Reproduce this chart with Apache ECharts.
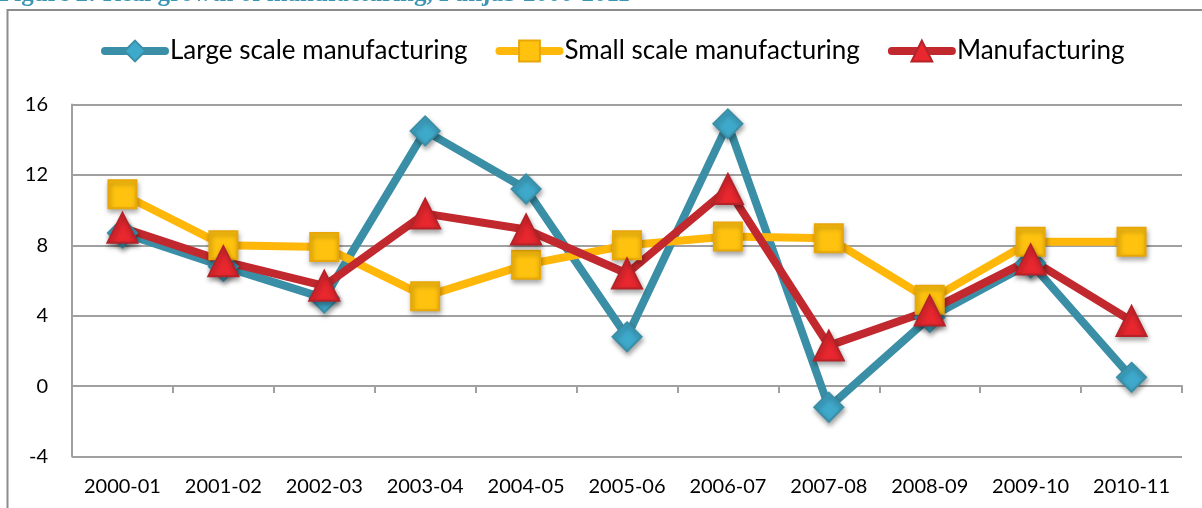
<!DOCTYPE html>
<html>
<head>
<meta charset="utf-8">
<script src="https://cdn.jsdelivr.net/npm/echarts@6/dist/echarts.min.js"></script>
<style>
html,body{margin:0;padding:0;background:#fff;}
#chart{width:1202px;height:508px;}
</style>
</head>
<body>
<div id="chart"></div>
<script>
const titleText = 'Figure 2: Real growth of manufacturing, Punjab 2000-2011';
const categories = ['2000-01','2001-02','2002-03','2003-04','2004-05','2005-06','2006-07','2007-08','2008-09','2009-10','2010-11'];
const seriesNames = ['Large scale manufacturing','Small scale manufacturing','Manufacturing'];
const largeScale = [8.7, 6.8, 5.0, 14.5, 11.2, 2.8, 14.9, -1.2, 3.9, 7.0, 0.5];
const smallScale = [10.9, 8.0, 7.9, 5.1, 6.9, 8.0, 8.5, 8.4, 4.9, 8.2, 8.2];
const manufacturing = [9.0, 7.1, 5.7, 9.8, 8.9, 6.4, 11.2, 2.3, 4.3, 7.2, 3.7];
const yMin = -4, yMax = 16, yStep = 4;

const chart = echarts.init(document.getElementById('chart'), null, {renderer:'canvas'});
const FONT = 'Lato';
const shadow = {shadowBlur: 5, shadowColor: 'rgba(0,0,0,0.35)', shadowOffsetX: 1, shadowOffsetY: 3};

function mkSeries(name, data, symbol, size, lineColor, fill, border) {
  return {
    name: name, type: 'line', data: data,
    xAxisIndex: 0, yAxisIndex: 0,
    symbol: symbol, symbolSize: size, showAllSymbol: true,
    lineStyle: {color: lineColor, width: 8, cap: 'round', join: 'round'},
    itemStyle: Object.assign({color: fill, borderColor: border, borderWidth: 2}, shadow),
    emphasis: {disabled: true},
    animation: false
  };
}

chart.setOption({
  animation: false,
  backgroundColor: '#fff',
  graphic: [
    {type: 'rect', shape: {x: 7.5, y: 10, width: 1220, height: 520}, style: {fill: 'none', stroke: '#8c8c8c', lineWidth: 2}, silent: true},
    {type: 'text', x: -1, y: 7, style: {text: titleText, fill: '#3c95b2', font: 'bold 25px "Liberation Serif"', verticalAlign: 'bottom', align: 'left'}, silent: true}
  ],
  legend: {
    data: seriesNames,
    left: 96, top: 33,
    orient: 'horizontal',
    itemWidth: 60, itemHeight: 26, itemGap: 28,
    textStyle: {fontFamily: FONT, fontSize: 26, color: '#000'},
    lineStyle: {width: 8, cap: 'round'},
    selectedMode: false
  },
  grid: {left: 72, right: 20, top: 104.5, bottom: 51.5, containLabel: false, outerBoundsMode: 'none'},
  xAxis: [
    {
      type: 'category', data: categories, position: 'bottom', boundaryGap: true,
      axisLine: {show: false, onZero: false},
      axisTick: {show: false},
      axisLabel: {fontFamily: FONT, fontSize: 20, color: '#000', margin: 20, interval: 0},
      splitLine: {show: false}
    },
    {
      type: 'category', data: categories, position: 'bottom', boundaryGap: true,
      axisLine: {show: true, onZero: true, lineStyle: {color: '#a0a0a0', width: 2}},
      axisTick: {show: true, length: 7, inside: false, interval: 0, lineStyle: {color: '#a0a0a0', width: 2}},
      axisLabel: {show: false},
      splitLine: {show: false}
    }
  ],
  yAxis: {
    type: 'value', min: yMin, max: yMax, interval: yStep,
    axisLine: {show: true, lineStyle: {color: '#a0a0a0', width: 2}},
    axisTick: {show: false},
    axisLabel: {fontFamily: FONT, fontSize: 20, color: '#000', margin: 24},
    splitLine: {show: true, lineStyle: {color: '#a0a0a0', width: 2}}
  },
  series: [
    mkSeries(seriesNames[0], largeScale, 'diamond', 29, '#3a8fa6', '#3fa9cb', '#3a8fa6'),
    mkSeries(seriesNames[1], smallScale, 'rect', 28, '#ffb80a', '#ffc30f', '#e8a608'),
    mkSeries(seriesNames[2], manufacturing, 'triangle', 30, '#c1292e', '#e8272f', '#b52328')
  ]
});
</script>
</body>
</html>
